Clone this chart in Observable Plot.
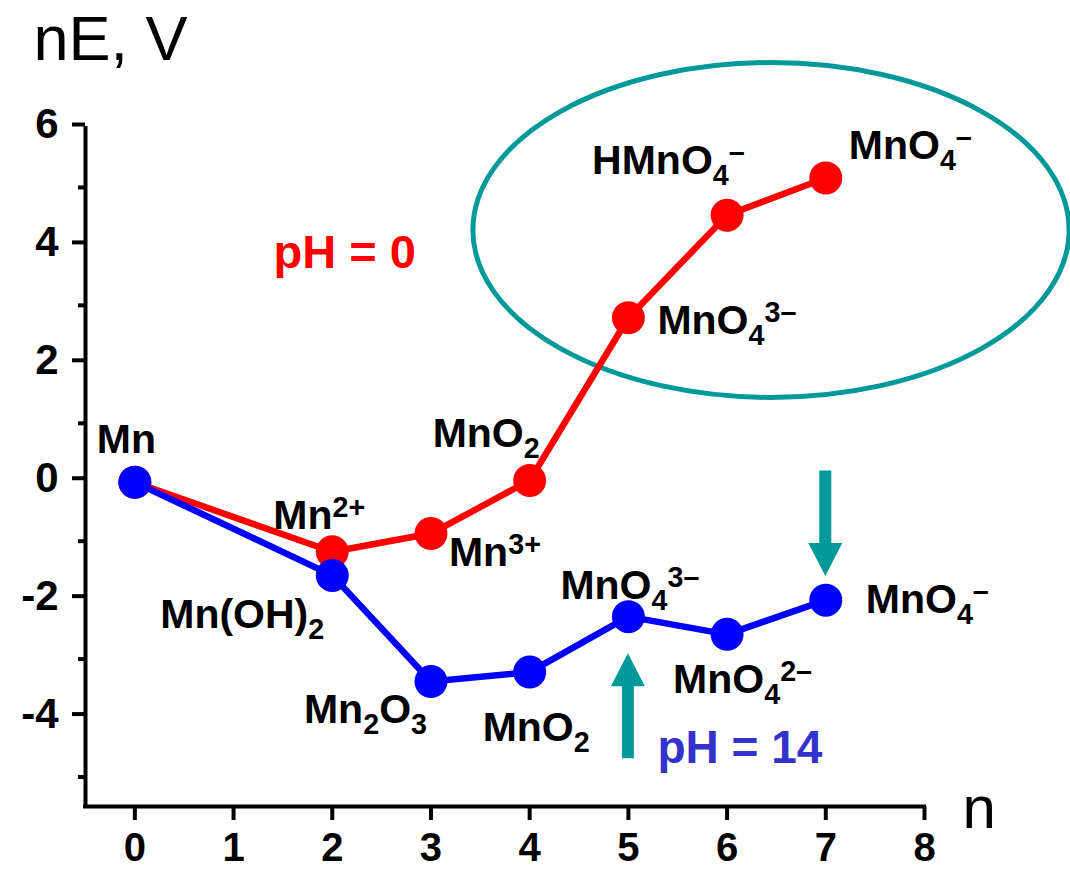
<!DOCTYPE html>
<html>
<head>
<meta charset="utf-8">
<script src="https://cdn.jsdelivr.net/npm/d3@7"></script>
<script src="https://cdn.jsdelivr.net/npm/@observablehq/plot@0.6"></script>
<style>
  html, body { margin: 0; padding: 0; background: #fff; }
  #chart svg { display: block; }
</style>
</head>
<body>
<div id="chart"></div>
<script>
// ---- data ----
const n = [0, 2, 3, 4, 5, 6, 7];
const nE_pH0  = [0, -1.18, -0.87, 0.03, 2.79, 4.53, 5.16];
const nE_pH14 = [0, -1.58, -3.38, -3.22, -2.28, -2.58, -2.00];
const species_pH0  = ["Mn", "Mn^{2+}", "Mn^{3+}", "MnO_{2}", "MnO_{4}^{3–}", "HMnO_{4}^{–}", "MnO_{4}^{–}"];
const species_pH14 = [null, "Mn(OH)_{2}", "Mn_{2}O_{3}", "MnO_{2}", "MnO_{4}^{3–}", "MnO_{4}^{2–}", "MnO_{4}^{–}"];
const xTicks = [0, 1, 2, 3, 4, 5, 6, 7, 8];
const yMajorTicks = [-4, -2, 0, 2, 4, 6];
const yMinorTicks = [-5, -3, -1, 1, 3, 5];
const yTitle = "nE, V";
const xTitle = "n";
const seriesNames = ["pH = 0", "pH = 14"];

// ---- annotation layout (pixel offsets of label baselines from points) ----
const offs_pH0  = [[-38, -29], [-59, -23], [18, 32], [-97, -33], [29, 16], [-135, -41], [23, -19]];
const offs_pH14 = [null, [-172, 53], [-127, 41], [-47, 69], [-68, -18], [-54, 59], [40, 13]];
const ellipse = {cx: 6.45, cy: 4.27, rx: 3.02, ry: 2.84};
const arrows = [{n: 7, from: 0.19, to: -1.60}, {n: 5, from: -4.69, to: -2.91}];
const seriesLabelPos = [{x: 1.404, y: 3.64}, {x: 5.294, y: -4.77}];

const W = 1070, H = 873;
const mL = 85, mR = 146, mT = 128, mB = 67;
const xDom = [-0.5, 8], yDom = [-5.5, 6];
const pxX = (W - mL - mR) / (xDom[1] - xDom[0]);
const pxY = (H - mT - mB) / (yDom[1] - yDom[0]);

const RED = "#ff0000", BLUE = "#0000ff", TEAL = "#009999", PH14 = "#3333cc";
const FONT = "'Liberation Sans', Arial, Helvetica, sans-serif";
const LABEL_FS = 41;

const pts0 = n.map((v, i) => ({n: v, e: nE_pH0[i]}));
const pts14 = n.map((v, i) => ({n: v, e: nE_pH14[i]}));
const labels = [];
n.forEach((v, i) => {
  if (species_pH0[i]) labels.push({t: species_pH0[i], x: v + offs_pH0[i][0] / pxX, y: nE_pH0[i] - offs_pH0[i][1] / pxY});
  if (species_pH14[i]) labels.push({t: species_pH14[i], x: v + offs_pH14[i][0] / pxX, y: nE_pH14[i] - offs_pH14[i][1] / pxY});
});

const SVGNS = "http://www.w3.org/2000/svg";
function ellipseMark(index, scales) {
  const {x, y} = scales;
  const cx = x(ellipse.cx), cy = y(ellipse.cy);
  const rx = Math.abs(x(ellipse.cx + ellipse.rx) - cx);
  const ry = Math.abs(y(ellipse.cy + ellipse.ry) - cy);
  const e = document.createElementNS(SVGNS, "ellipse");
  e.setAttribute("cx", cx); e.setAttribute("cy", cy);
  e.setAttribute("rx", rx); e.setAttribute("ry", ry);
  e.setAttribute("fill", "none"); e.setAttribute("stroke", TEAL);
  e.setAttribute("stroke-width", 5);
  return e;
}
function arrowMark(index, scales) {
  const {x, y} = scales;
  const g = document.createElementNS(SVGNS, "g");
  const sw = 6, hw = 17, hl = 33;
  arrows.forEach(a => {
    const ax = x(a.n), y0 = y(a.from), y1 = y(a.to);
    const dir = y1 > y0 ? 1 : -1;
    const yb = y1 - dir * hl;
    const d = `M${ax - sw},${y0} L${ax + sw},${y0} L${ax + sw},${yb} L${ax + hw},${yb} L${ax},${y1} L${ax - hw},${yb} L${ax - sw},${yb} Z`;
    const p = document.createElementNS(SVGNS, "path");
    p.setAttribute("d", d); p.setAttribute("fill", TEAL);
    g.appendChild(p);
  });
  return g;
}

const plot = Plot.plot({
  width: W, height: H,
  marginLeft: mL, marginRight: mR, marginTop: mT, marginBottom: mB,
  x: {domain: xDom, axis: null},
  y: {domain: yDom, axis: null},
  style: {fontFamily: FONT, background: "#fff", overflow: "visible"},
  marks: [
    ellipseMark,
    Plot.ruleX([xDom[0]], {y1: yDom[0], y2: yDom[1], stroke: "#000", strokeWidth: 4, strokeLinecap: "square"}),
    Plot.ruleY([yDom[0]], {x1: xDom[0], x2: xDom[1], stroke: "#000", strokeWidth: 4, strokeLinecap: "square"}),
    Plot.axisY(yMajorTicks, {tickSize: 13, strokeWidth: 4, tickPadding: 14, fontSize: 42, fontWeight: "bold", fill: "#000", tickFormat: d => String(d), dy: -4}),
    Plot.axisY(yMinorTicks, {tickSize: 7, strokeWidth: 4, tickFormat: () => ""}),
    Plot.axisX(xTicks, {tickSize: 14, strokeWidth: 4, tickPadding: 12, fontSize: 40, fontWeight: "bold", fill: "#000", tickFormat: d => String(d)}),
    Plot.line(pts0, {x: "n", y: "e", stroke: RED, strokeWidth: 6.5}),
    Plot.line(pts14, {x: "n", y: "e", stroke: BLUE, strokeWidth: 6.5}),
    Plot.dot(pts0, {x: "n", y: "e", r: 16.5, fill: RED}),
    Plot.dot(pts14, {x: "n", y: "e", r: 16.5, fill: BLUE}),
    Plot.text(labels, {x: "x", y: "y", text: "t", textAnchor: "start", lineAnchor: "bottom", fontSize: LABEL_FS, fontWeight: "bold", fill: "#000"}),
    Plot.text([seriesNames[0]], {x: seriesLabelPos[0].x, y: seriesLabelPos[0].y, text: d => d, textAnchor: "start", lineAnchor: "bottom", fontSize: 47, fontWeight: "bold", fill: RED}),
    Plot.text([seriesNames[1]], {x: seriesLabelPos[1].x, y: seriesLabelPos[1].y, text: d => d, textAnchor: "start", lineAnchor: "bottom", fontSize: 46, fontWeight: "bold", fill: PH14}),
    arrowMark,
    Plot.text([yTitle], {frameAnchor: "top-left", text: d => d, textAnchor: "start", lineAnchor: "bottom", dx: -52, dy: -69, fontSize: 63, fill: "#000"}),
    Plot.text([xTitle], {frameAnchor: "bottom-right", text: d => d, textAnchor: "start", lineAnchor: "bottom", dx: 38, dy: 21, fontSize: 60, fill: "#000"})
  ]
});

// rich text: sub/superscripts via tspans
function richify(svg) {
  svg.querySelectorAll("text").forEach(t => {
    const s = t.textContent;
    if (!/[_^]\{/.test(s)) return;
    const fs = LABEL_FS, small = fs * 0.7, subShift = 11, supShift = -12;
    t.textContent = "";
    const re = /([_^])\{([^}]*)\}|([^_^]+)/g;
    let m, cur = 0;
    while ((m = re.exec(s))) {
      const ts = document.createElementNS(SVGNS, "tspan");
      let target = 0, size = null, txt;
      if (m[1]) { target = m[1] === "_" ? subShift : supShift; size = small; txt = m[2]; }
      else { txt = m[3]; }
      const dy = target - cur;
      if (dy) ts.setAttribute("dy", dy);
      cur = target;
      if (size) ts.setAttribute("font-size", size);
      ts.textContent = txt;
      t.appendChild(ts);
    }
  });
}
richify(plot);
document.getElementById("chart").appendChild(plot);
</script>
</body>
</html>
